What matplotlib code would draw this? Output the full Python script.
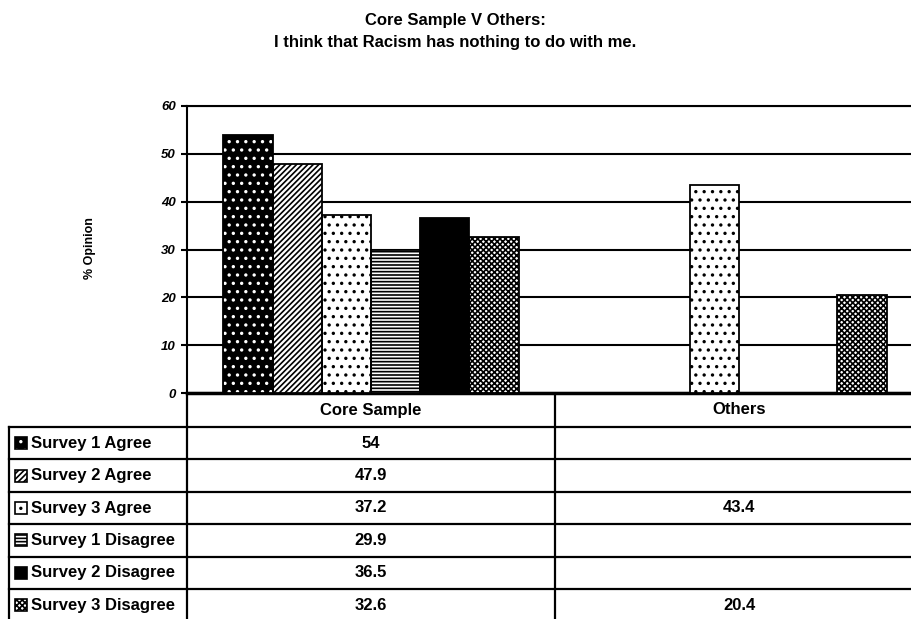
import numpy as np
import matplotlib
matplotlib.use("Agg")
import matplotlib.pyplot as plt
from matplotlib.patches import Rectangle
from matplotlib.transforms import blended_transform_factory

plt.rcParams['font.family'] = ['Liberation Sans', 'DejaVu Sans']
plt.rcParams['hatch.linewidth'] = 1.2

# Data
groups = ['Core Sample', 'Others']
series = ['Survey 1 Agree', 'Survey 2 Agree', 'Survey 3 Agree',
          'Survey 1 Disagree', 'Survey 2 Disagree', 'Survey 3 Disagree']
core = [54, 47.9, 37.2, 29.9, 36.5, 32.6]
others = [np.nan, np.nan, 43.4, np.nan, np.nan, 20.4]
value_text_core = ['54', '47.9', '37.2', '29.9', '36.5', '32.6']
value_text_others = ['', '', '43.4', '', '', '20.4']

# styles: (face, hatch, hatch colour)
styles = [
    ('black', '..', 'white'),
    ('white', '//////', 'black'),
    ('white', '..', 'black'),
    ('white', '-----', 'black'),
    ('black', '', 'black'),
    ('white', 'xxxxxx', 'black'),
]

W, H = 911, 619
fig = plt.figure(figsize=(W / 100, H / 100), dpi=100)

ax_left, ax_right = 187, 923
ax_top, ax_bot = 106, 393
ax = fig.add_axes([ax_left / W, 1 - ax_bot / H, (ax_right - ax_left) / W, (ax_bot - ax_top) / H])

x = np.arange(len(groups))
bw = 0.1337
vals = np.array([core, others]).T  # series x groups

for i, (face, hatch, hcol) in enumerate(styles):
    pos = x + (i - 2.5) * bw
    ax.bar(pos, vals[i], bw, color=face, edgecolor=hcol, hatch=hatch, linewidth=0, zorder=3)
    ax.bar(pos, vals[i], bw, fill=False, edgecolor='black', linewidth=1.3, zorder=4)

ax.set_xlim(-0.5, 1.5)
ax.set_ylim(0, 60)
ax.set_yticks(np.arange(0, 61, 10))
ax.set_xticks([])
ax.yaxis.grid(True, color='black', linewidth=1.5)
ax.set_axisbelow(True)
ax.spines['right'].set_visible(False)
ax.spines['top'].set_linewidth(1.5)
ax.spines['left'].set_linewidth(1.5)
ax.spines['bottom'].set_linewidth(2.5)
ax.tick_params(axis='y', direction='out', length=4, width=1.5, labelsize=9.5, pad=4)
for lbl in ax.get_yticklabels():
    lbl.set_fontweight('bold')
    lbl.set_fontstyle('italic')

fig.text(90 / W, 1 - 248 / H, '% Opinion', rotation=90, ha='center', va='center',
         fontsize=9, fontweight='bold')
fig.text(0.5, 1 - 20 / H, 'Core Sample V Others:', ha='center', va='center',
         fontsize=12, fontweight='bold')
fig.text(0.5, 1 - 43 / H, 'I think that Racism has nothing to do with me.', ha='center',
         va='center', fontsize=12, fontweight='bold')

# Data table under the chart
tab = fig.add_axes([0, 0, 1, 1], zorder=-1)
tab.set_xlim(0, W)
tab.set_ylim(H, 0)
tab.axis('off')
tr = blended_transform_factory(ax.transData, tab.transData)

head_h = 34
row_h = 32.4
x_lab = -0.5 - (ax_left - 9) / (ax_right - ax_left) * 2
lw = 1.6

# horizontal lines
for r in range(len(series) + 1):
    y = ax_bot + head_h + r * row_h
    tab.plot([x_lab, 1.5], [y, y], color='black', lw=lw, transform=tr, clip_on=False)
# vertical lines
tab.plot([x_lab, x_lab], [ax_bot + head_h, H + 5], color='black', lw=lw, transform=tr, clip_on=False)
for xv in [-0.5, 0.5]:
    tab.plot([xv, xv], [ax_bot, H + 5], color='black', lw=lw, transform=tr, clip_on=False)

for g, name in enumerate(groups):
    tab.text(g, ax_bot + head_h / 2, name, ha='center', va='center', fontsize=12,
             fontweight='bold', transform=tr)

key_w = 12 / (ax_right - ax_left) * 2
key_x = -0.5 - (ax_left - 15) / (ax_right - ax_left) * 2
txt_x = -0.5 - (ax_left - 31) / (ax_right - ax_left) * 2
for i, name in enumerate(series):
    yc = ax_bot + head_h + (i + 0.5) * row_h
    face, hatch, hcol = styles[i]
    tab.add_patch(Rectangle((key_x, yc - 6), key_w, 12, facecolor=face, edgecolor=hcol,
                            hatch=hatch, linewidth=0, transform=tr, clip_on=False))
    tab.add_patch(Rectangle((key_x, yc - 6), key_w, 12, fill=False, edgecolor='black',
                            linewidth=1.2, transform=tr, clip_on=False))
    tab.text(txt_x, yc, name, ha='left', va='center', fontsize=12, fontweight='bold',
             transform=tr)
    tab.text(0, yc, value_text_core[i], ha='center', va='center', fontsize=12,
             fontweight='bold', transform=tr)
    tab.text(1, yc, value_text_others[i], ha='center', va='center', fontsize=12,
             fontweight='bold', transform=tr)

fig.savefig('out.png', dpi=100)
